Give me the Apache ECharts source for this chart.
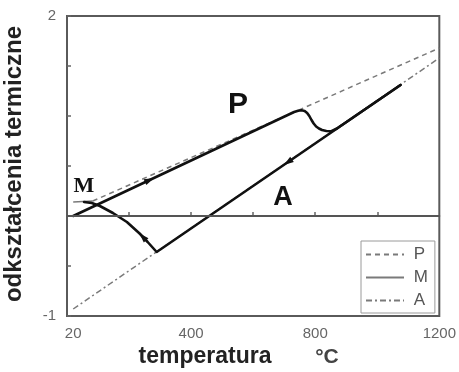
<!DOCTYPE html>
<html>
<head>
<meta charset="utf-8">
<script src="https://cdn.jsdelivr.net/npm/echarts@6/dist/echarts.min.js"></script>
<style>
  html, body { margin: 0; padding: 0; background: #fff; }
  #chart { width: 459px; height: 372px; }
</style>
</head>
<body>
<div id="chart"></div>
<script>
// Reference expansion lines: [temperature °C, thermal strain]
const pLine = [[83, 0.15], [1200, 1.68]];
const mLine = [[20, 0.14], [83, 0.15]];
const aLine = [[20, -0.93], [1200, 1.58]];

// Heating: pearlite expansion, P→A transformation, austenite expansion
const heating = [
  [20, 0.0], [732, 1.04], [745, 1.053], [756, 1.057], [766, 1.05], [774, 1.03],
  [781, 1.0], [788, 0.96], [795, 0.925], [803, 0.895], [812, 0.875], [822, 0.86],
  [836, 0.85], [852, 0.848], [870, 0.875], [1075, 1.31]
];

// Cooling: austenite contraction, then martensitic transformation
const cooling = [
  [1075, 1.31], [289, -0.36], [260, -0.26], [234, -0.175], [193, -0.06],
  [148, 0.03], [106, 0.10], [80, 0.13], [55, 0.14]
];

// Axis labels
const xTickLabels = [20, 400, 800, 1200];
const xTickMarks = [200, 400, 600, 800, 1000];
const yTickLabels = [-1, 2];

// Temperatures where direction arrows sit on each curve
const heatingArrowTemps = [266];
const coolingArrowTemps = [712, 244];

// Point on a curve at temperature T, plus the local direction of travel
function arrowAt(curve, T) {
  for (let i = 0; i < curve.length - 1; i++) {
    const [x0, y0] = curve[i], [x1, y1] = curve[i + 1];
    if (x0 !== x1 && (T - x0) * (T - x1) <= 0) {
      const t = (T - x0) / (x1 - x0);
      return [T, y0 + t * (y1 - y0), x1 - x0, y1 - y0];
    }
  }
  return null;
}
const arrows = heatingArrowTemps.map(t => arrowAt(heating, t))
  .concat(coolingArrowTemps.map(t => arrowAt(cooling, t)));

const labelFont = '"Liberation Sans Narrow", "Liberation Sans", Arial, sans-serif';
const boldFont = '"Liberation Sans", Arial, sans-serif';
const thin = { color: '#7a7a7a', width: 1.5 };
const none = 'rgba(0,0,0,0)';

const chart = echarts.init(document.getElementById('chart'), null, { renderer: 'canvas' });
chart.setOption({
  backgroundColor: '#ffffff',
  animation: false,
  grid: {
    left: 67, right: 18, top: 16, bottom: 56,
    show: true, borderColor: '#5a5a5a', borderWidth: 2, backgroundColor: 'transparent'
  },
  legend: {
    data: ['P', 'M', 'A'],
    orient: 'vertical',
    left: 361, top: 241,
    itemWidth: 38, itemHeight: 14, itemGap: 6,
    padding: [5, 7, 4, 4],
    borderColor: '#9a9a9a', borderWidth: 1,
    backgroundColor: '#fff',
    itemStyle: { color: none, borderColor: none, borderWidth: 0 },
    formatter: n => ' ' + n,
    textStyle: { color: '#555', fontSize: 17, fontFamily: labelFont }
  },
  xAxis: {
    type: 'value', min: 0, max: 1200,
    axisLine: { show: true, lineStyle: { color: '#5a5a5a', width: 2 } },
    axisTick: { show: true, inside: true, length: 4, customValues: xTickMarks,
      lineStyle: { color: '#666', width: 1.5 } },
    axisLabel: { customValues: xTickLabels, margin: 10, color: '#666',
      fontSize: 15, fontFamily: labelFont, formatter: v => String(v) },
    splitLine: { show: false }
  },
  yAxis: {
    type: 'value', min: -1, max: 2, interval: 0.5,
    axisLine: { show: true, lineStyle: { color: '#5a5a5a', width: 2 } },
    axisTick: { show: true, inside: true, length: 4, lineStyle: { color: '#666', width: 1.5 } },
    axisLabel: { customValues: yTickLabels, margin: 11, color: '#666',
      fontSize: 15, fontFamily: labelFont, formatter: v => String(v) },
    splitLine: { show: false }
  },
  series: [
    {
      name: 'P', type: 'line', data: pLine, symbol: 'none', z: 2,
      itemStyle: { color: '#7a7a7a' },
      lineStyle: { ...thin, type: [5, 4] }
    },
    {
      name: 'M', type: 'line', data: mLine, symbol: 'none', z: 2,
      itemStyle: { color: '#7a7a7a' },
      lineStyle: { ...thin, type: 'solid' },
      markLine: {
        silent: true, symbol: 'none', label: { show: false },
        lineStyle: { color: '#555', width: 1.8, type: 'solid' },
        data: [{ yAxis: 0 }]
      }
    },
    {
      name: 'A', type: 'line', data: aLine, symbol: 'none', z: 2,
      itemStyle: { color: '#7a7a7a' },
      lineStyle: { ...thin, type: [6, 3, 2, 3] }
    },
    {
      name: 'heating', type: 'line', data: heating, symbol: 'none', z: 4,
      lineStyle: { color: '#111', width: 2.6, join: 'round', cap: 'round' }
    },
    {
      name: 'cooling', type: 'line', data: cooling, symbol: 'none', z: 4,
      lineStyle: { color: '#111', width: 2.6, join: 'round', cap: 'round' }
    },
    {
      name: 'arrows', type: 'custom', z: 5, data: arrows, encode: { x: 0, y: 1 },
      renderItem(params, api) {
        const p = api.coord([api.value(0), api.value(1)]);
        const q = api.coord([api.value(0) + api.value(2), api.value(1) + api.value(3)]);
        let dx = q[0] - p[0], dy = q[1] - p[1];
        const len = Math.hypot(dx, dy) || 1;
        dx /= len; dy /= len;
        const nx = -dy, ny = dx;
        const tip = [p[0] + dx * 5, p[1] + dy * 5];
        const base = [p[0] - dx * 5, p[1] - dy * 5];
        return {
          type: 'polygon',
          shape: { points: [tip, [base[0] + nx * 3.2, base[1] + ny * 3.2], [base[0] - nx * 3.2, base[1] - ny * 3.2]] },
          style: { fill: '#111' }
        };
      }
    }
  ],
  graphic: [
    { type: 'text', x: 14, y: 164, rotation: Math.PI / 2, z: 10,
      style: { text: 'odkształcenia termiczne', font: 'bold 24px ' + boldFont,
        fill: '#222', align: 'center', verticalAlign: 'middle' } },
    { type: 'text', x: 205, y: 357, z: 10,
      style: { text: 'temperatura', font: 'bold 23px ' + boldFont,
        fill: '#222', align: 'center', verticalAlign: 'middle' } },
    { type: 'text', x: 327, y: 357, z: 10,
      style: { text: '°C', font: 'bold 21px ' + boldFont,
        fill: '#444', align: 'center', verticalAlign: 'middle' } },
    { type: 'text', x: 238, y: 105, z: 10,
      style: { text: 'P', font: 'bold 30px ' + labelFont,
        fill: '#111', align: 'center', verticalAlign: 'middle' } },
    { type: 'text', x: 283, y: 198, z: 10,
      style: { text: 'A', font: 'bold 27px ' + labelFont,
        fill: '#111', align: 'center', verticalAlign: 'middle' } },
    { type: 'text', x: 84, y: 186, z: 10,
      style: { text: 'M', font: 'bold 22px "Liberation Serif", serif',
        fill: '#111', align: 'center', verticalAlign: 'middle' } }
  ]
});
</script>
</body>
</html>
